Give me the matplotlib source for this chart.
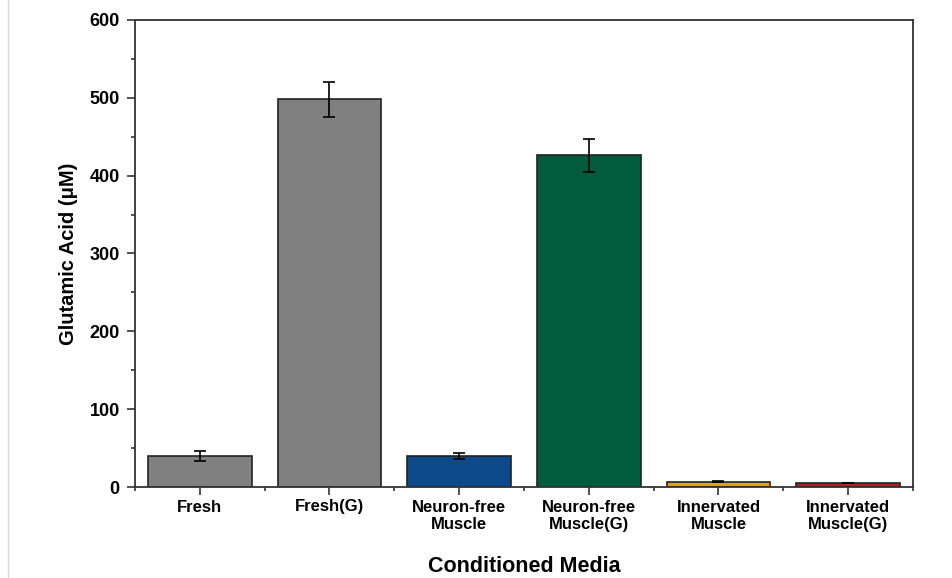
import matplotlib.pyplot as plt
from matplotlib.lines import Line2D
from matplotlib.ticker import MultipleLocator

plt.rcParams['font.family'] = ['Liberation Sans', 'DejaVu Sans']
plt.rcParams['font.weight'] = 'bold'

categories = ['Fresh', 'Fresh(G)', 'Neuron-free\nMuscle', 'Neuron-free\nMuscle(G)',
              'Innervated\nMuscle', 'Innervated\nMuscle(G)']
means = [40, 498, 40, 426, 7, 5]
errors = [6, 22, 3.5, 21, 1, 0.5]
colors = ['#808080', '#808080', '#0c4a8c', '#005c3c', '#f59b0a', '#b22024']

fig = plt.figure(figsize=(9.52, 5.78), dpi=100)
ax = fig.add_axes([135 / 952, 1 - 487 / 578, 778 / 952, 467 / 578])

pos = list(range(1, len(categories) + 1))
ax.bar(pos, means, width=0.8, color=colors, edgecolor='#222222', linewidth=1.2,
       yerr=errors, capsize=4, error_kw={'elinewidth': 1.2, 'capthick': 1.2,
                                          'ecolor': 'black'})

ax.set_xlim(0.5, 6.5)
ax.set_ylim(0, 600)
ax.set_xticks(pos)
ax.set_xticklabels(categories, fontsize=12, fontweight='bold')
ax.xaxis.set_minor_locator(MultipleLocator(1, offset=0.5))
ax.yaxis.set_major_locator(MultipleLocator(100))
ax.yaxis.set_minor_locator(MultipleLocator(50))

ax.tick_params(which='major', direction='out', length=6, width=1.2, color='#333333')
ax.tick_params(which='minor', direction='out', length=3, width=1.2, color='#333333')
ax.tick_params(axis='y', which='major', labelsize=13, pad=5)
ax.tick_params(axis='x', which='major', labelsize=12, pad=3)
for s in ax.spines.values():
    s.set_linewidth(1.3)
    s.set_color('#333333')

ax.set_ylabel('Glutamic Acid (μM)', fontsize=14.5, fontweight='bold', labelpad=8)
ax.set_xlabel('Conditioned Media', fontsize=15.5, fontweight='bold', labelpad=17)

fig.add_artist(Line2D([8 / 952, 8 / 952], [0, 1], transform=fig.transFigure,
                      color='#d8d8d8', linewidth=1))

fig.savefig('out.png', dpi=100)
